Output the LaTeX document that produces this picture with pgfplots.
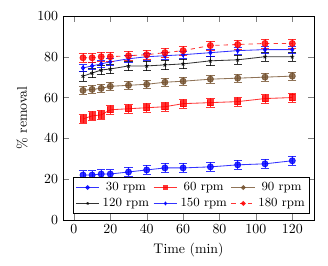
\documentclass[border=0pt]{standalone}
\usepackage{pgfplots}
\pgfplotsset{compat=1.18}
\usepackage{pgfplotstable}
\definecolor{mybrown}{RGB}{115,80,45}
\pgfplotstableread{
t a b c d e f
5 22 49.5 63.5 70.5 74.5 79.5
10 22 51 64 72 75.5 79.5
15 22.5 51.5 64.5 73.5 76.5 80
20 22.5 54 65.5 74 77.5 80
30 23.5 54.5 66 75.5 79 80.5
40 24.5 55 66.5 75.5 80 81
50 25.5 55.5 67.5 76 80.5 82
60 25.5 57 68 76.5 81 83
75 26 57.5 69 78 82 85.5
90 27 58 69.5 78.5 83 86
105 27.5 59.5 70 80 83.5 86.5
120 29 60 70.5 80 83.5 86.5
}\data
\begin{document}
\begin{tikzpicture}
\begin{axis}[
  scale only axis,
  width=181pt, height=147pt,
  xmin=-6, xmax=132, ymin=0, ymax=100,
  xtick={0,20,...,120}, ytick={0,20,...,100},
  xlabel={Time (min)}, ylabel={\% removal},
  legend columns=3,
  legend style={at={(0.04,0.03)},anchor=south west,font=\small,inner sep=1.5pt,row sep=0pt,
    /tikz/every even column/.append style={column sep=1pt}},
  legend image post style={mark options={solid,scale=0.65}},
  error bars/y dir=both, error bars/y explicit,
  every axis plot/.append style={line width=0.6pt},
]
\addplot[blue, opacity=0.8, mark=*, mark size=2.2pt, error bars/.cd, error mark options={rotate=90,mark size=3pt}] table[x=t,y=a,y error expr=2.2] {\data};
\addlegendentry{30 rpm}
\addplot[red, opacity=0.8, mark=square*, mark size=2.2pt, error bars/.cd, error mark options={rotate=90,mark size=3pt}] table[x=t,y=b,y error expr=2.2] {\data};
\addlegendentry{60 rpm}
\addplot[mybrown, opacity=0.8, mark=*, mark size=2.2pt, error bars/.cd, error mark options={rotate=90,mark size=3pt}] table[x=t,y=c,y error expr=2] {\data};
\addlegendentry{90 rpm}
\addplot[black, opacity=0.8, mark=star, mark size=1.5pt, error bars/.cd, error mark options={rotate=90,mark size=3pt}] table[x=t,y=d,y error expr=2.3] {\data};
\addlegendentry{120 rpm}
\addplot[blue, opacity=0.8, mark=diamond*, mark size=1.6pt, error bars/.cd, error mark options={rotate=90,mark size=3pt}] table[x=t,y=e,y error expr=1.6] {\data};
\addlegendentry{150 rpm}
\addplot[red, dashed, opacity=0.8, mark=*, mark size=2.2pt, mark options={solid}, error bars/.cd, error bar style={solid}, error mark options={rotate=90,mark size=3pt}] table[x=t,y=f,y error expr=2.2] {\data};
\addlegendentry{180 rpm}
\end{axis}
\pgfresetboundingbox
\useasboundingbox ([shift={(-45.4pt,-33pt)}]current axis.south west) rectangle ([shift={(10pt,11.5pt)}]current axis.north east);
\end{tikzpicture}
\end{document}
